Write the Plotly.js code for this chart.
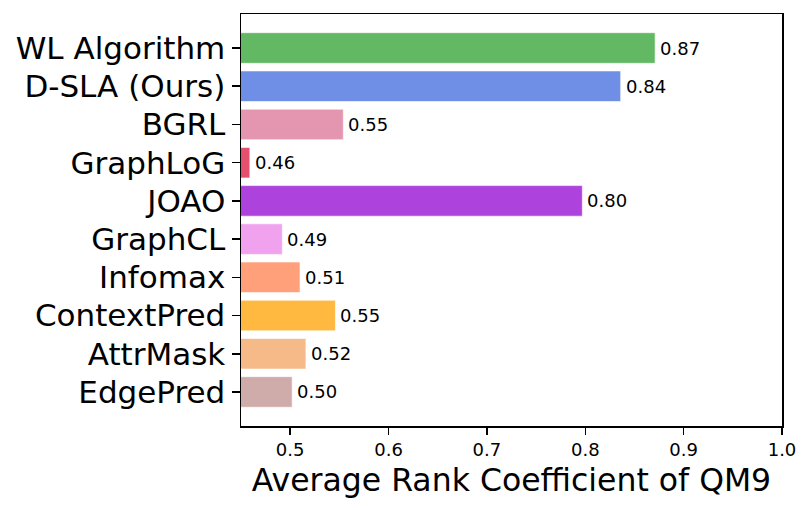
<!DOCTYPE html>
<html>
<head>
<meta charset="utf-8">
<script src="https://cdn.plot.ly/plotly-3.0.1.min.js"></script>
<style>html,body{margin:0;padding:0;background:#fff;}#chart{width:811px;height:510px;}</style>
</head>
<body>
<div id="chart"></div>
<script>
// Data (bottom to top)
const methods = ["EdgePred", "AttrMask", "ContextPred", "Infomax", "GraphCL", "JOAO", "GraphLoG", "BGRL", "D-SLA (Ours)", "WL Algorithm"];
const scores = [0.502, 0.516, 0.546, 0.510, 0.492, 0.797, 0.459, 0.554, 0.836, 0.871];
const barColors = ["#cfabaa", "#f5ba88", "#ffb840", "#ffa07a", "#f1a2ef", "#ad42dc", "#e5506e", "#e495b0", "#6f8fe6", "#63b863"];
const xTickVals = [0.5, 0.6, 0.7, 0.8, 0.9, 1.0];
const xTickText = ["0.5", "0.6", "0.7", "0.8", "0.9", "1.0"];

const font = "DejaVu Sans, sans-serif";

const trace = {
  type: "bar",
  orientation: "h",
  y: methods.map((m, i) => i),
  x: scores,
  width: 0.8,
  marker: {color: barColors, line: {color: "rgba(255,255,255,0.6)", width: 1}},
  hoverinfo: "skip"
};

const annotations = scores.map((v, i) => ({
  x: v, y: i, xref: "x", yref: "y",
  text: v.toFixed(2), showarrow: false,
  xanchor: "left", yanchor: "middle", xshift: 3,
  font: {family: font, size: 18, color: "#000"}
}));

const layout = {
  width: 811, height: 510,
  margin: {l: 241, r: 29, t: 14, b: 84},
  paper_bgcolor: "#fff", plot_bgcolor: "#fff",
  showlegend: false,
  xaxis: {
    range: [0.45, 1.0],
    tickvals: xTickVals, ticktext: xTickText,
    ticks: "outside", ticklen: 7, tickwidth: 1.5, tickcolor: "#000",
    showgrid: false, zeroline: false,
    showline: true, linecolor: "#000", linewidth: 1.5, mirror: true,
    tickfont: {family: font, size: 18, color: "#000"},
    title: {text: "Average Rank Coefficient of QM9", font: {family: font, size: 31.5, color: "#000"}, standoff: 10}
  },
  yaxis: {
    range: [-0.89, 9.89],
    tickvals: methods.map((m, i) => i), ticktext: methods,
    ticks: "outside", ticklen: 8, tickwidth: 1.5, tickcolor: "#000",
    showgrid: false, zeroline: false,
    showline: true, linecolor: "#000", linewidth: 1.5, mirror: true,
    tickfont: {family: font, size: 31, color: "#000"}
  },
  annotations: annotations
};

Plotly.newPlot("chart", [trace], layout, {staticPlot: true, displayModeBar: false});
</script>
</body>
</html>
